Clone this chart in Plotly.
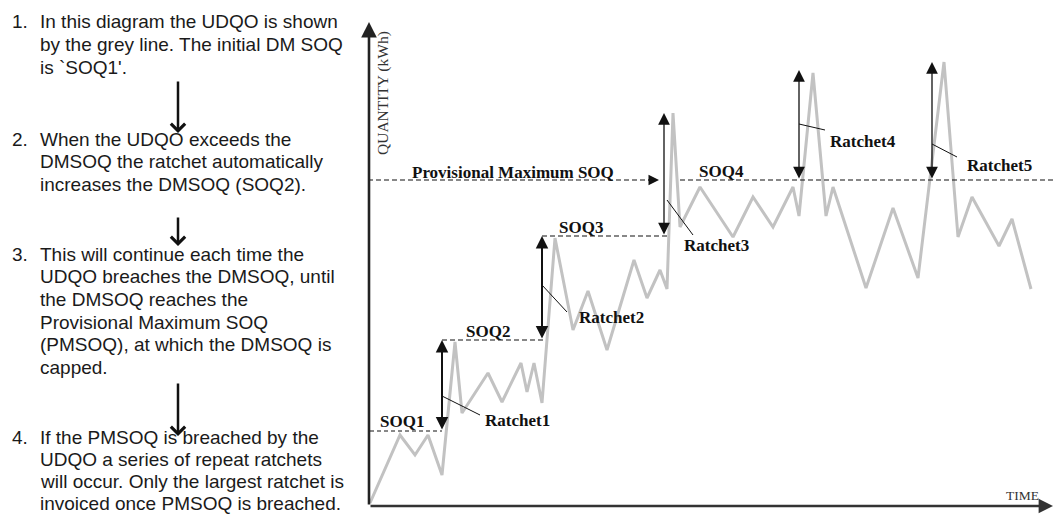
import plotly.graph_objects as go

W, H = 1055, 516
X0, Y0 = 369, 506  # pixel position of the chart origin (time=0, quantity=0)

# ---- data (time / quantity in arbitrary units) ----
time = [1, 31, 46, 59, 73, 86, 93, 119, 133, 152, 158, 165, 173, 186, 204, 219,
        238, 265, 278, 291, 298, 304, 311, 331, 364, 384, 404, 424, 430, 444,
        457, 464, 497, 524, 549, 575, 589, 603, 630, 643, 662]
udqo = [3, 71, 51, 71, 31, 164, 93, 133, 104, 143, 114, 143, 103, 268, 176, 215,
        156, 246, 208, 236, 217, 393, 279, 319, 269, 309, 279, 319, 290, 433,
        290, 319, 218, 298, 228, 444, 269, 309, 260, 287, 217]

soq_names = ["SOQ1", "SOQ2", "SOQ3", "SOQ4"]
soq_levels = [75, 166, 270, 326]
soq_start = [1, 73, 173, 311]
soq_end = [73, 177, 299, 686]
pmsoq_level = 326

ratchet_names = ["Ratchet1", "Ratchet2", "Ratchet3", "Ratchet4", "Ratchet5"]
ratchet_time = [73, 173, 295, 430, 563]
ratchet_from = [75, 166, 270, 326, 326]
ratchet_to = [166, 270, 393, 436, 444]

steps_text = [
    ["In this diagram the UDQO is shown", "by the grey line. The initial DM SOQ", "is `SOQ1'."],
    ["When the UDQO exceeds the", "DMSOQ the ratchet automatically", "increases the DMSOQ (SOQ2)."],
    ["This will continue each time the", "UDQO breaches the DMSOQ, until", "the DMSOQ reaches the",
     "Provisional Maximum SOQ", "(PMSOQ), at which the DMSOQ is", "capped."],
    ["If the PMSOQ is breached by the", "UDQO a series of repeat ratchets",
     "will occur. Only the largest ratchet is", "invoiced once PMSOQ is breached."],
]
step_first_y = [22, 139, 254, 437]   # pixel centre of first line of each step
step_line_h = [22.7, 22.7, 22.7, 22.3]

SERIF = "Liberation Serif, Times New Roman, serif"
SANS = "Liberation Sans, Arial, sans-serif"

fig = go.Figure()
fig.add_trace(go.Scatter(x=time, y=udqo, mode="lines",
                         line=dict(color="#c2c2c2", width=3), hoverinfo="skip",
                         showlegend=False))

shapes = []
annotations = []

def px(xp, yp):
    """pixel -> paper coordinates"""
    return xp / W, 1 - yp / H

LBL_FONT = dict(family=SERIF, size=17, color="#111", weight="bold")

# ---- SOQ dashed levels ----
for i, (lvl, a, b) in enumerate(zip(soq_levels, soq_start, soq_end)):
    shapes.append(dict(type="line", xref="x", yref="y", x0=a, x1=b, y0=lvl, y1=lvl,
                       line=dict(color="#111", width=1.2 if i else 1.0,
                                 dash="5px,3px" if i else "4px,3px")))
# provisional maximum line (left part, ending in an arrow)
shapes.append(dict(type="line", xref="x", yref="y", x0=-1, x1=281, y0=pmsoq_level, y1=pmsoq_level,
                   line=dict(color="#111", width=1.2, dash="5px,3px")))
annotations.append(dict(x=290, y=pmsoq_level, ax=278, ay=pmsoq_level, xref="x", yref="y",
                        axref="x", ayref="y", text="", showarrow=True, arrowhead=2,
                        arrowsize=1.4, arrowwidth=1.5, arrowcolor="#111"))

# ---- ratchet double arrows ----
for i, (t, f, to) in enumerate(zip(ratchet_time, ratchet_from, ratchet_to)):
    w = 2.0 if i < 2 else 1.3
    s = 1.25 if i < 2 else 1.8
    annotations.append(dict(x=t, y=to, ax=t, ay=f, xref="x", yref="y", axref="x", ayref="y",
                            text="", showarrow=True, arrowside="end+start",
                            arrowhead=2, startarrowhead=2,
                            arrowsize=s, startarrowsize=s,
                            arrowwidth=w, arrowcolor="#111"))

# leader lines from ratchet arrows to labels
leaders = [((73, 110), (111, 91)), ((173, 221), (198, 194)), ((298, 306), (324, 271)),
           ((430, 382), (456, 376)), ((563, 362), (588, 349))]
for (a, b) in leaders:
    shapes.append(dict(type="line", xref="x", yref="y", x0=a[0], y0=a[1], x1=b[0], y1=b[1],
                       line=dict(color="#111", width=1)))

ratchet_label_pos = [(114, 86), (208, 189), (313, 261), (459, 365), (596, 341)]
for name, (lx, ly) in zip(ratchet_names, ratchet_label_pos):
    annotations.append(dict(x=lx, y=ly, xref="x", yref="y", text=name, showarrow=False,
                            xanchor="left", yanchor="middle", font=LBL_FONT))

soq_label_pos = [(9, 85), (95, 175), (188, 279), (328, 335)]
for name, (lx, ly) in zip(soq_names, soq_label_pos):
    annotations.append(dict(x=lx, y=ly, xref="x", yref="y", text=name, showarrow=False,
                            xanchor="left", yanchor="middle", font=LBL_FONT))
annotations.append(dict(x=41, y=334, xref="x", yref="y", text="Provisional Maximum SOQ",
                        showarrow=False, xanchor="left", yanchor="middle", font=LBL_FONT))

# ---- chart axes with arrows ----
annotations.append(dict(x=0, y=484, ax=0, ay=0, xref="x", yref="y", axref="x", ayref="y",
                        text="", showarrow=True, arrowhead=2, arrowsize=1.2, arrowwidth=2.6,
                        arrowcolor="#222"))
annotations.append(dict(x=684, y=0, ax=0, ay=0, xref="x", yref="y", axref="x", ayref="y",
                        text="", showarrow=True, arrowhead=2, arrowsize=1.2, arrowwidth=2.4,
                        arrowcolor="#333"))
qx, qy = px(383, 93)
annotations.append(dict(x=qx, y=qy, xref="paper", yref="paper", text="QUANTITY (kWh)",
                        textangle=-90, showarrow=False, xanchor="center", yanchor="middle",
                        font=dict(family=SERIF, size=15.5, color="#333")))
tx, ty = px(1022, 495)
annotations.append(dict(x=tx, y=ty, xref="paper", yref="paper", text="TIME",
                        showarrow=False, xanchor="center", yanchor="middle",
                        font=dict(family=SERIF, size=13.5, color="#333")))

# ---- explanatory text on the left ----
for k, (lines, y0, lh) in enumerate(zip(steps_text, step_first_y, step_line_h)):
    nx, ny = px(10, y0)
    annotations.append(dict(x=nx, y=ny, xref="paper", yref="paper", text=f"{k + 1}.",
                            showarrow=False, xanchor="left", yanchor="middle",
                            font=dict(family=SANS, size=19, color="#1a1a1a")))
    for j, line in enumerate(lines):
        lx, ly = px(38, y0 + j * lh)
        annotations.append(dict(x=lx, y=ly, xref="paper", yref="paper", text=line,
                                showarrow=False, xanchor="left", yanchor="middle",
                                font=dict(family=SANS, size=19, color="#1a1a1a")))

# downward arrows between steps
for (y_tail, y_tip) in [(80, 133), (216, 246), (382, 436)]:
    ax_, ay_ = px(178, y_tip)
    annotations.append(dict(x=ax_, y=ay_, xref="paper", yref="paper", ax=0, ay=y_tail - y_tip,
                            text="", showarrow=True, arrowhead=4, arrowsize=1.1, arrowwidth=2.5,
                            arrowcolor="#111"))

fig.update_layout(
    width=W, height=H, margin=dict(l=0, r=0, t=0, b=0),
    paper_bgcolor="white", plot_bgcolor="white",
    xaxis=dict(range=[-X0, W - X0], visible=False, fixedrange=True),
    yaxis=dict(range=[Y0 - H, Y0], visible=False, fixedrange=True),
    shapes=shapes, annotations=annotations, showlegend=False,
)

fig.write_html(
    "out.html",
    config={"displayModeBar": False},
    post_script="document.body.style.margin='0';document.body.style.overflow='hidden';",
)
